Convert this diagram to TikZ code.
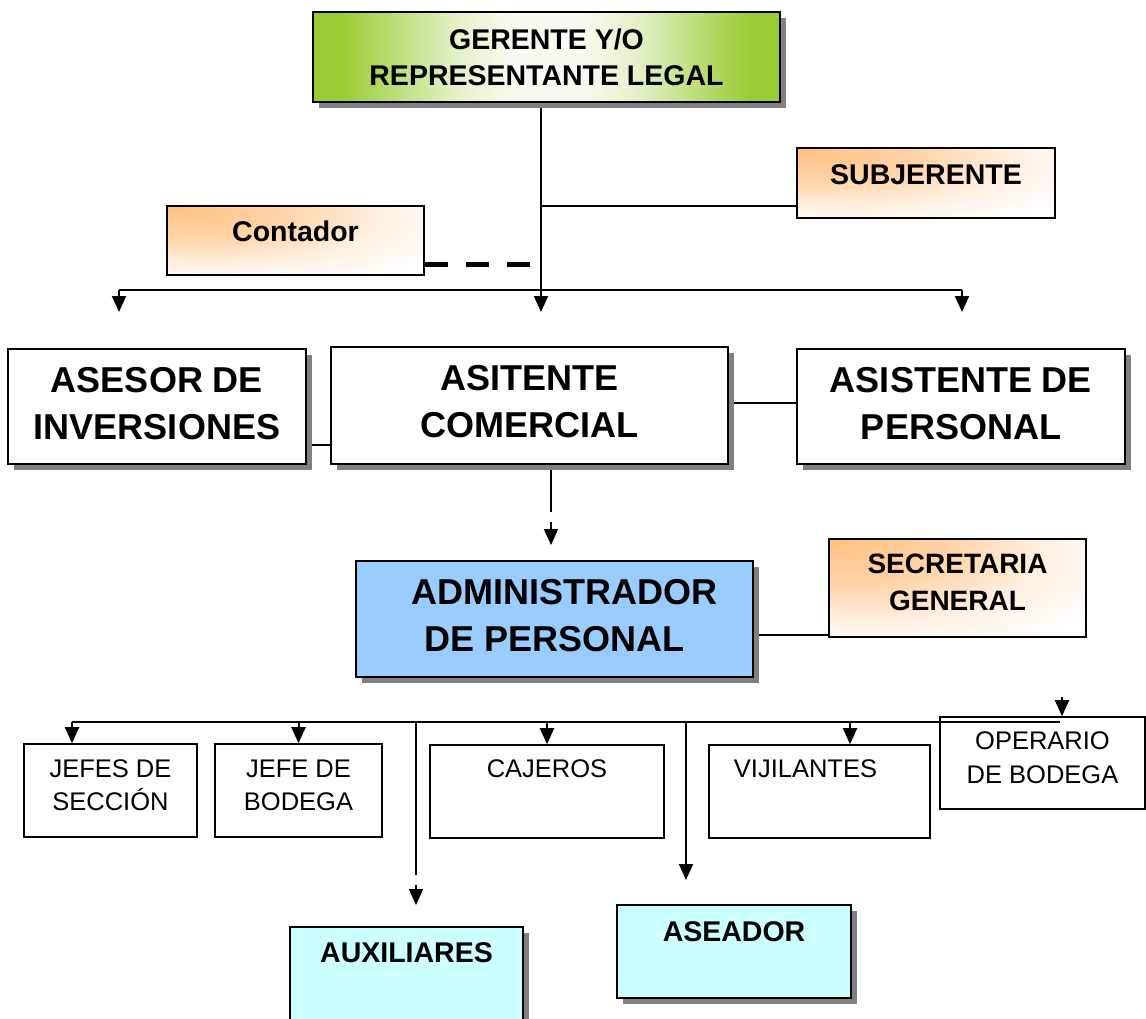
\documentclass[tikz,border=0pt]{standalone}
\usepackage{fontspec}
\setmainfont{Liberation Sans}
\usetikzlibrary{arrows.meta,backgrounds}
\definecolor{grn}{HTML}{99CC33}
\definecolor{orng}{HTML}{FFC080}
\definecolor{blu}{HTML}{99CCFF}
\definecolor{cyn}{HTML}{CCFFFF}
\definecolor{shd}{HTML}{808080}
\pgfdeclarehorizontalshading{greenglow}{100bp}{color(0bp)=(grn); color(25bp)=(grn); color(28bp)=(grn); color(34bp)=(grn!65!white); color(40bp)=(grn!28!white); color(46bp)=(white!92!grn); color(54bp)=(white!92!grn); color(60bp)=(grn!28!white); color(66bp)=(grn!65!white); color(72bp)=(grn); color(75bp)=(grn); color(100bp)=(grn)}
\pgfdeclareradialshading{orangecorner}{\pgfpoint{-25bp}{25bp}}{color(0bp)=(orng); color(18bp)=(orng!70!white); color(34bp)=(orng!22!white); color(48bp)=(white); color(100bp)=(white)}
\newcommand\ftA{\fontsize{28.5pt}{36pt}\selectfont\bfseries}
\newcommand\ftB{\fontsize{36pt}{47pt}\selectfont\bfseries}
\newcommand\ftS{\fontsize{28pt}{37pt}\selectfont\bfseries}
\newcommand\ftR{\fontsize{25.5pt}{33pt}\selectfont}
\newcommand\ftO{\fontsize{25.5pt}{34pt}\selectfont}
\begin{document}
\begin{tikzpicture}[x=1pt,y=-1pt,
  box/.style={draw=black, line width=1.6pt, rectangle, inner sep=0pt},
  shad/.style={preaction={fill=shd, draw=none, transform canvas={xshift=6pt,yshift=-6pt}}},
  lbl/.style={anchor=center, align=center, inner sep=0pt},
  con/.style={line width=2pt},
  arr/.style={con, -{Triangle[length=16pt,width=14pt]}},
  dashline/.style={line width=5pt, dash pattern=on 23pt off 18pt}]
\useasboundingbox (0,0) rectangle (1146,1019);
\clip (0,0) rectangle (1146,1019);

% boxes
\node[box, shad, shading=greenglow, minimum width=467pt, minimum height=90pt,
  label={[lbl, font=\ftA, yshift=-46pt]north:GERENTE Y/O\\REPRESENTANTE LEGAL}] (ger) at (546.5,57) {};
\node[box, shading=orangecorner, minimum width=258pt, minimum height=70pt,
  label={[lbl, font=\ftA, yshift=-27pt]north:SUBJERENTE}] (sub) at (926,183) {};
\node[box, shading=orangecorner, minimum width=257pt, minimum height=69pt,
  label={[lbl, font=\ftA, yshift=-26pt]north:Contador}] (cont) at (295.5,240.5) {};
\node[box, shad, fill=white, minimum width=298pt, minimum height=115pt,
  label={[lbl, font=\ftB, yshift=-55.5pt]north:ASESOR DE\\INVERSIONES}] (asesor) at (157,406.5) {};
\node[box, shad, fill=white, minimum width=397pt, minimum height=117pt,
  label={[lbl, font=\ftB, yshift=-55pt]north:ASITENTE\\COMERCIAL}] (asit) at (529.5,405.5) {};
\node[box, shad, fill=white, minimum width=328pt, minimum height=115pt,
  label={[lbl, font=\ftB, yshift=-55.5pt]north:ASISTENTE DE\\PERSONAL}] (asis) at (961,406.5) {};
\node[box, shad, fill=blu, minimum width=397pt, minimum height=116pt,
  label={[lbl, font=\ftB, yshift=-55pt]north:\hspace*{20pt}ADMINISTRADOR\\DE PERSONAL}] (adm) at (554.5,619) {};
\node[box, shading=orangecorner, minimum width=257pt, minimum height=98pt,
  label={[lbl, font=\ftS, yshift=-44.5pt]north:SECRETARIA\\GENERAL}] (sec) at (957.5,588) {};
\node[box, minimum width=173pt, minimum height=93pt,
  label={[lbl, font=\ftR, yshift=-42.5pt]north:JEFES DE\\SECCIÓN}] (jefes) at (110.5,790.5) {};
\node[box, minimum width=167pt, minimum height=93pt,
  label={[lbl, font=\ftR, yshift=-42.5pt]north:JEFE DE\\BODEGA}] (jbod) at (298.5,790.5) {};
\node[box, minimum width=234pt, minimum height=93pt,
  label={[lbl, font=\ftR, yshift=-25pt]north:CAJEROS}] (caj) at (547,791.5) {};
\node[box, minimum width=221pt, minimum height=93pt,
  label={[lbl, font=\ftR, yshift=-25pt, xshift=-14pt]north:VIJILANTES}] (vij) at (819.5,791.5) {};
\node[box, minimum width=205pt, minimum height=92pt,
  label={[lbl, font=\ftO, yshift=-42pt]north:OPERARIO\\DE BODEGA}] (op) at (1042.5,763) {};
\node[box, shad, fill=cyn, minimum width=233pt, minimum height=130pt,
  label={[lbl, font=\ftA, yshift=-26pt]north:AUXILIARES}] (aux) at (406.5,992) {};
\node[box, shad, fill=cyn, minimum width=234pt, minimum height=93pt,
  label={[lbl, font=\ftA, yshift=-27pt]north:ASEADOR}] (asea) at (734,951.5) {};

% connectors
\begin{scope}[on background layer]
\coordinate (tb) at (541,290);
\coordinate (hl) at (119,290);
\coordinate (hr) at (962,290);
\coordinate (a1) at (119,312);
\coordinate (a2) at (541,312);
\coordinate (a3) at (962,312);
\coordinate (sj) at (541,206);
\coordinate (dj) at (530,264);
\draw[arr] (ger.south -| tb) -- (a2);
\draw[con] (hl) -- (hr);
\draw[arr] (hl) -- (a1);
\draw[arr] (hr) -- (a3);
\draw[con] (sj) -- (sj -| sub.west);
\draw[dashline] (cont.east |- dj) -- (dj);

\coordinate (ya) at (0,445);
\coordinate (yb) at (0,403);
\draw[con] (asesor.east |- ya) -- (asit.west |- ya);
\draw[con] (asit.east |- yb) -- (asis.west |- yb);
\coordinate (v1) at (551,512);
\coordinate (v2) at (551,522);
\coordinate (v3) at (551,545);
\draw[con] (asit.south -| v1) -- (v1);
\draw[arr] (v2) -- (v3);
\coordinate (yc) at (0,635);
\draw[con] (adm.east |- yc) -- (sec.west |- yc);

\coordinate (bl) at (72,722);
\coordinate (br) at (1060,722);
\draw[con] (bl) -- (br);
\draw[arr] (bl) -- (jefes.north -| bl);
\draw[arr] (jbod.north |- bl) -- (jbod.north);
\draw[arr] (caj.north |- bl) -- (caj.north);
\coordinate (vx) at (850,722);
\draw[arr] (vx) -- (vij.north -| vx);
\coordinate (ox) at (1062,697);
\draw[arr] (ox) -- (op.north -| ox);
\coordinate (xa) at (416,722);
\coordinate (xb) at (416,875);
\coordinate (xc) at (416,885);
\coordinate (xd) at (416,905);
\draw[con] (xa) -- (xb);
\draw[arr] (xc) -- (xd);
\coordinate (xe) at (686,722);
\coordinate (xf) at (686,880);
\draw[arr] (xe) -- (xf);
\end{scope}
\end{tikzpicture}
\end{document}
